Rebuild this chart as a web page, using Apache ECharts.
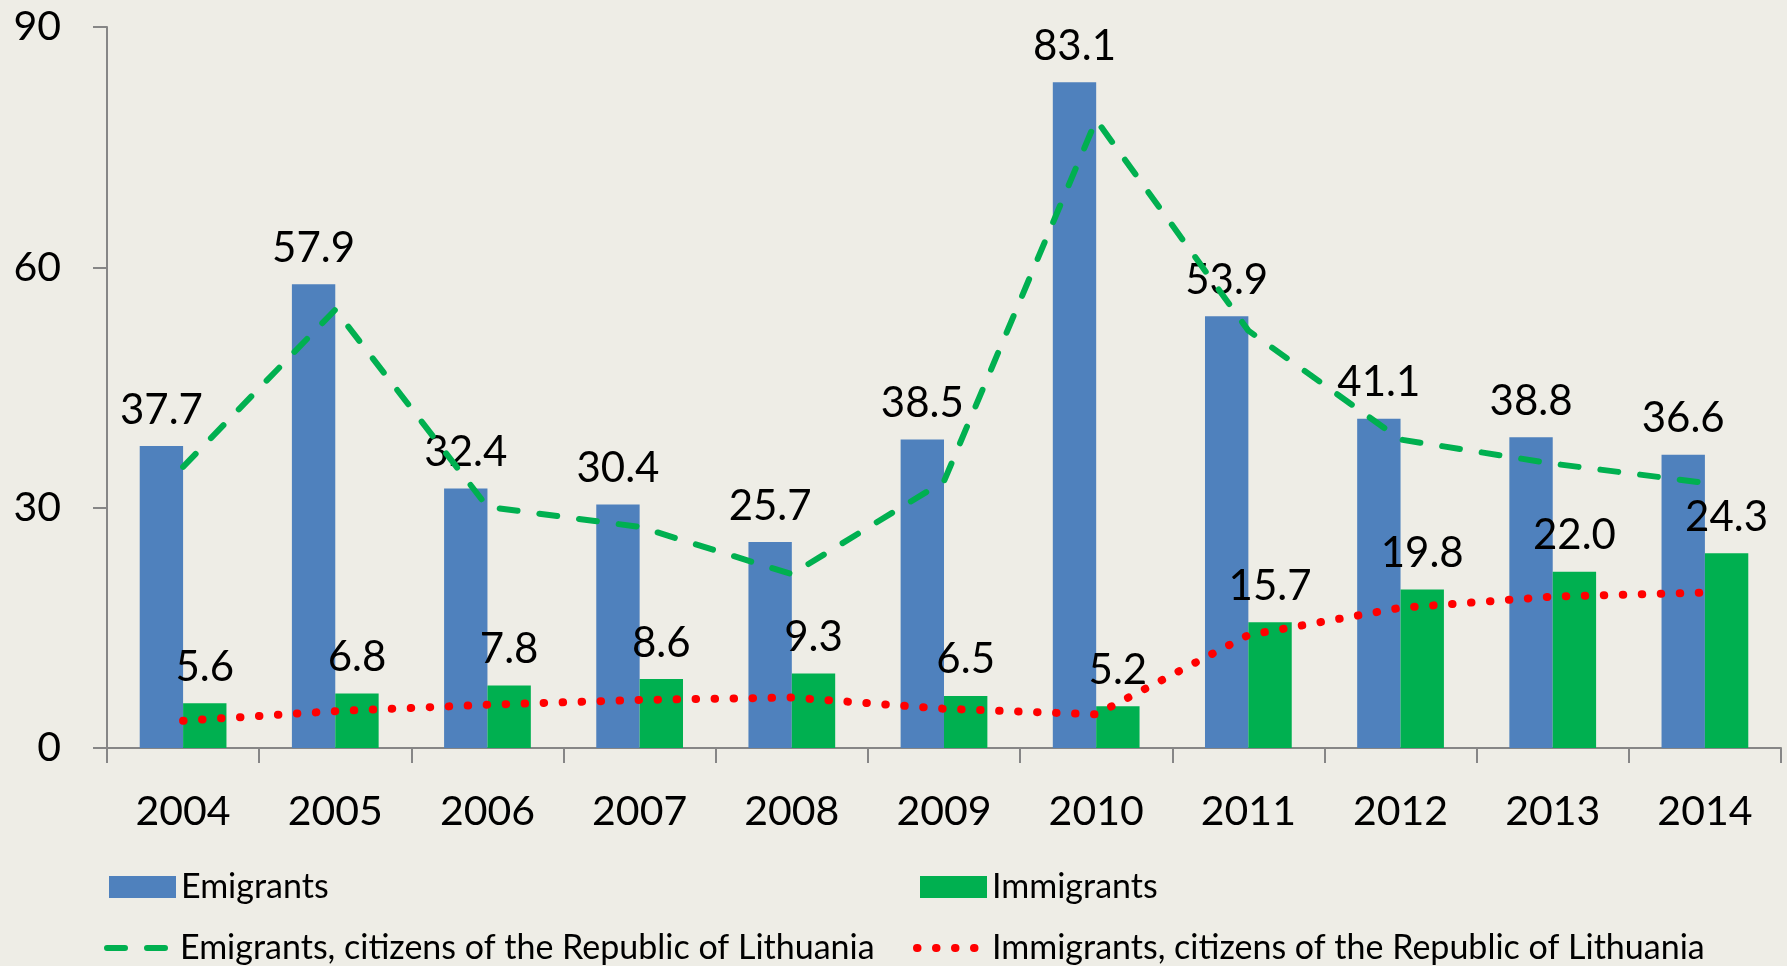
<!DOCTYPE html>
<html>
<head>
<meta charset="utf-8">
<script src="https://cdn.jsdelivr.net/npm/echarts@6/dist/echarts.min.js"></script>
<style>
    html, body { margin: 0; padding: 0; background: #eeede6; }
    #chart { width: 1787px; height: 966px; }
</style>
</head>
<body>
<div id="chart"></div>
<script>
var years = ['2004', '2005', '2006', '2007', '2008', '2009', '2010', '2011', '2012', '2013', '2014'];
var emigrants = [37.7, 57.9, 32.4, 30.4, 25.7, 38.5, 83.1, 53.9, 41.1, 38.8, 36.6];
var immigrants = [5.6, 6.8, 7.8, 8.6, 9.3, 6.5, 5.2, 15.7, 19.8, 22.0, 24.3];
// citizens of Lithuania
var emigrantsLt = [35.1, 54.7, 30.1, 27.6, 21.7, 33.3, 78.4, 52.1, 38.5, 35.5, 33.1];
var immigrantsLt = [3.4, 4.6, 5.4, 6.0, 6.3, 4.9, 4.2, 14.1, 17.5, 18.9, 19.4];
var yTicks = [0, 30, 60, 90];

var names = ['Emigrants', 'Immigrants',
    'Emigrants, citizens of the Republic of Lithuania',
    'Immigrants, citizens of the Republic of Lithuania'];

var font = 'Lato';
var axisColor = '#868686';
var dashStyle = { color: '#00b050', width: 6, type: [18, 22], cap: 'round' };
var dotStyle = { color: '#ff0000', width: 8, type: [0.5, 18.5], cap: 'round' };

function getChart() {
    var myChart = echarts.init(document.getElementById('chart'));
    var legendText = { fontFamily: font, fontSize: 34, color: '#000' };
    var labelStyle = {
        show: true,
        position: 'top',
        distance: 15,
        fontFamily: font,
        fontSize: 42,
        color: '#000',
        formatter: function (p) { return p.value.toFixed(1); }
    };
    var option = {
        backgroundColor: 'transparent',
        animation: false,
        textStyle: { fontFamily: font },
        grid: { left: 107, right: 6, top: 27, bottom: 218, containLabel: false },
        legend: [
            { data: [names[0]], icon: 'rect', left: 104, top: 865, itemWidth: 67, itemHeight: 22, textStyle: legendText },
            { data: [names[1]], icon: 'rect', left: 915, top: 865, itemWidth: 67, itemHeight: 22, textStyle: legendText },
            {
                data: [names[2]], left: 99, top: 926, itemWidth: 68, itemHeight: 22, textStyle: legendText,
                itemStyle: { opacity: 0 }, lineStyle: dashStyle
            },
            {
                data: [names[3]], left: 908, top: 926, itemWidth: 70, itemHeight: 22, textStyle: legendText,
                itemStyle: { opacity: 0 }, lineStyle: dotStyle
            }
        ],
        xAxis: {
            type: 'category',
            data: years,
            axisLine: { lineStyle: { color: axisColor, width: 2 } },
            axisTick: { show: true, length: 15, lineStyle: { color: axisColor, width: 2 } },
            axisLabel: { fontFamily: font, fontSize: 41, color: '#000', margin: 43 }
        },
        yAxis: {
            type: 'value',
            min: 0,
            max: 90,
            interval: 30,
            axisLine: { show: true, lineStyle: { color: axisColor, width: 2 } },
            axisTick: { show: true, length: 14, lineStyle: { color: axisColor, width: 2 } },
            splitLine: { show: false },
            axisLabel: {
                fontFamily: font, fontSize: 41, color: '#000', margin: 46,
                formatter: function (v) { return yTicks.indexOf(v) >= 0 ? String(v) : ''; }
            }
        },
        series: [
            {
                name: names[0],
                type: 'bar',
                data: emigrants,
                barGap: '0%',
                barCategoryGap: '43%',
                itemStyle: { color: '#4f81bd' },
                label: labelStyle
            },
            {
                name: names[1],
                type: 'bar',
                data: immigrants,
                barGap: '0%',
                barCategoryGap: '43%',
                itemStyle: { color: '#00b050' },
                label: labelStyle
            },
            {
                name: names[2],
                type: 'line',
                data: emigrantsLt,
                symbol: 'none',
                z: 5,
                itemStyle: { color: '#00b050' },
                lineStyle: dashStyle
            },
            {
                name: names[3],
                type: 'line',
                data: immigrantsLt,
                symbol: 'none',
                z: 5,
                itemStyle: { color: '#ff0000' },
                lineStyle: dotStyle
            }
        ]
    };
    myChart.setOption(option);
}
getChart();
</script>
</body>
</html>
